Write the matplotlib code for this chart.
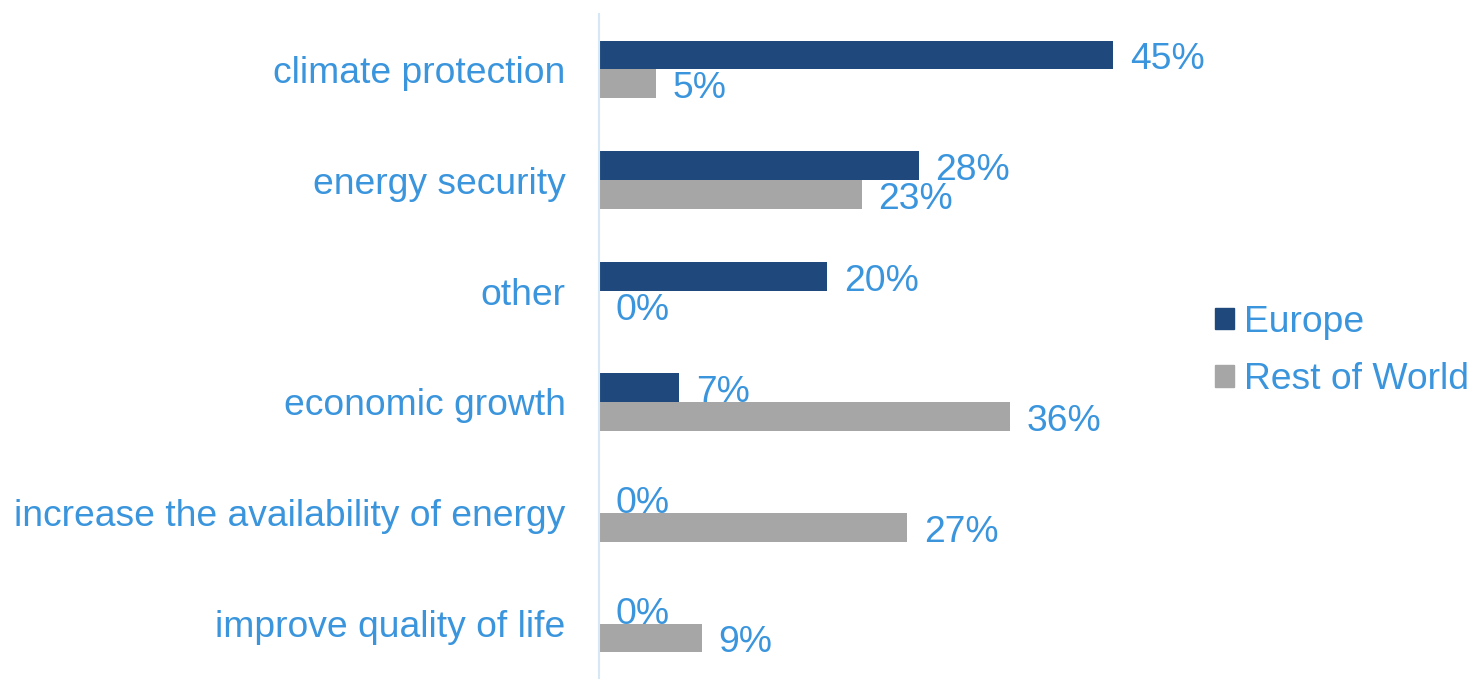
import matplotlib
matplotlib.use("Agg")
import matplotlib.pyplot as plt
from matplotlib.patches import Patch
import numpy as np

categories = ["climate protection", "energy security", "other", "economic growth",
              "increase the availability of energy", "improve quality of life"]
europe = [45, 28, 20, 7, 0, 0]
rest_of_world = [5, 23, 0, 36, 27, 9]
series_names = ["Europe", "Rest of World"]

c_eu = "#1F497D"
c_row = "#A6A6A6"
c_txt = "#3A95DD"
fs = 26.8

plt.rcParams['font.family'] = ['Liberation Sans', 'DejaVu Sans']

fig = plt.figure(figsize=(14.72, 6.79), dpi=100)
ax = fig.add_axes([599/1472, 0.0, 594/1472, 665/679])

y = np.arange(len(categories))
h = 0.26
b1 = ax.barh(y - h/2, europe, height=h, color=c_eu)
b2 = ax.barh(y + h/2, rest_of_world, height=h, color=c_row)

for bars, vals in ((b1, europe), (b2, rest_of_world)):
    for rect, v in zip(bars, vals):
        ax.annotate(f"{v}%", (rect.get_width(), rect.get_y() + rect.get_height()/2),
                    xytext=(12, -3.5), textcoords="offset points", ha="left", va="center",
                    fontsize=fs, color=c_txt)

ax.set_xlim(0, 52)
ax.set_ylim(len(categories) - 0.5, -0.5)
ax.set_yticks(y)
ax.set_yticklabels(categories, fontsize=fs, color=c_txt)
ax.tick_params(axis='y', length=0, pad=24)
ax.set_xticks([])
for s in ["top", "right", "bottom"]:
    ax.spines[s].set_visible(False)
ax.spines["left"].set_color("#D6E7F5")
ax.spines["left"].set_linewidth(1.5)

handles = [Patch(color=c_eu), Patch(color=c_row)]
leg = fig.legend(handles, series_names, loc="center left", bbox_to_anchor=(1215/1472, 1 - 351/679),
                 frameon=False, fontsize=fs, handlelength=0.5, handleheight=0.5,
                 handletextpad=0.27, labelspacing=0.6, borderpad=0, borderaxespad=0)
for t in leg.get_texts():
    t.set_color(c_txt)

fig.savefig("out.png", dpi=100)
